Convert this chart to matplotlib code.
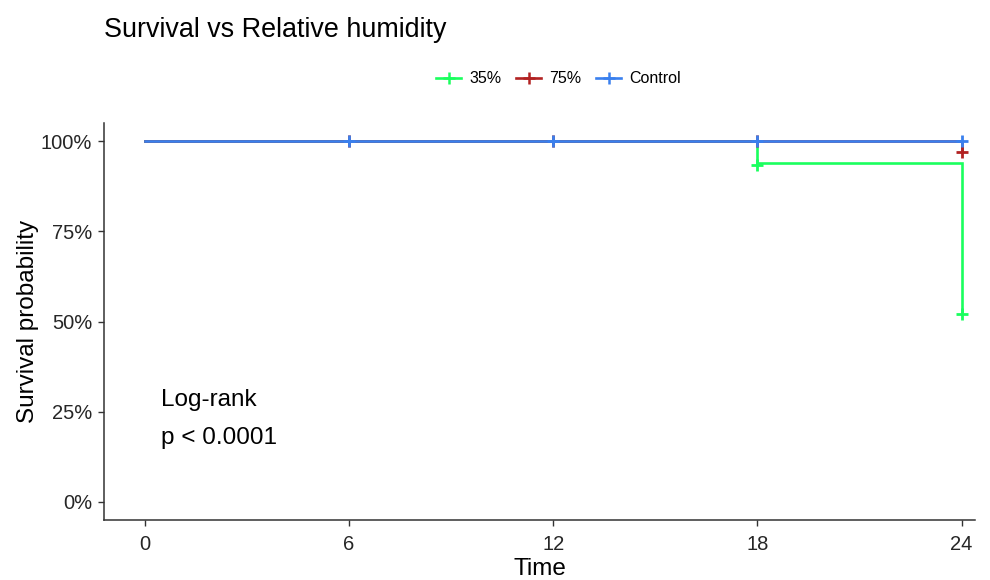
import numpy as np
import matplotlib.pyplot as plt
from matplotlib.lines import Line2D
from matplotlib.ticker import FuncFormatter

plt.rcParams['font.family'] = ['Liberation Sans', 'DejaVu Sans']

# step curves: time of each step and survival after it
groups = ["35%", "75%", "Control"]
colors = ["#1aff5e", "#b22222", "#3a80ee"]
step_times = {
    "35%": [0, 18, 24],
    "75%": [0, 24],
    "Control": [0, 24],
}
step_surv = {
    "35%": [1.0, 0.94, 0.52],
    "75%": [1.0, 0.97],
    "Control": [1.0, 1.0],
}
# censoring marks
cens_times = {
    "35%": [18, 24],
    "75%": [6, 12, 18, 24],
    "Control": [6, 12, 18, 24],
}
cens_surv = {
    "35%": [0.935, 0.52],
    "75%": [1.0, 1.0, 1.0, 0.97],
    "Control": [1.0, 1.0, 1.0, 1.0],
}
x_ticks = [0, 6, 12, 18, 24]
y_ticks = [0, 0.25, 0.5, 0.75, 1.0]

fig = plt.figure(figsize=(9.9, 5.8), dpi=100)
ax = fig.add_axes([0.105, 0.1035, 0.88, 0.684])

for g, c in zip(groups, colors):
    t = step_times[g]
    s = step_surv[g]
    ax.step(t, s, where="post", color=c, lw=1.9, solid_joinstyle="miter")
    ax.plot(cens_times[g], cens_surv[g], ls="none", marker="+", ms=9, mew=2.0, color=c)

ax.set_xlim(-1.2, 24.4)
ax.set_ylim(-0.05, 1.05)
ax.set_xticks(x_ticks)
ax.set_yticks(y_ticks)
ax.yaxis.set_major_formatter(FuncFormatter(lambda v, p: f"{v*100:.0f}%"))
ax.tick_params(labelsize=14.5, length=4.5, width=1.0, colors="#333333",
               labelcolor="#262626")
ax.tick_params(axis="x", pad=6)
ax.tick_params(axis="y", pad=4)
for side in ["top", "right"]:
    ax.spines[side].set_visible(False)
for side in ["left", "bottom"]:
    ax.spines[side].set_linewidth(1.1)
    ax.spines[side].set_color("#333333")

ax.set_xlabel("Time", fontsize=17.5, labelpad=3)
ax.set_ylabel("Survival probability", fontsize=17.5, labelpad=1)

ax.text(0.47, 0.23, "Log-rank\np < 0.0001", fontsize=17.5, va="center", ha="left",
        linespacing=1.9)

fig.text(0.105, 0.948, "Survival vs Relative humidity", fontsize=19.4, ha="left", va="center")

handles = [Line2D([], [], color=c, lw=1.9, marker="+", ms=9, mew=1.8) for c in colors]
fig.legend(handles, groups, loc="center", bbox_to_anchor=(0.564, 0.864), ncol=3,
           frameon=False, fontsize=11.5, handlelength=1.6, handletextpad=0.5,
           columnspacing=0.9)

fig.savefig("out.png", dpi=100)
